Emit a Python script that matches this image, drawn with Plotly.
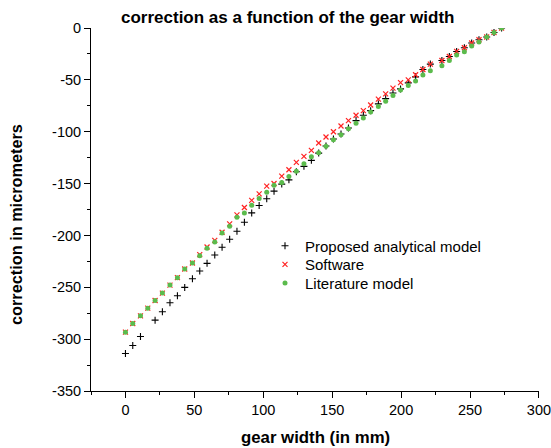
import plotly.graph_objects as go

# gear width (mm)
gear_width = [0, 5.3, 10.9, 16.2, 21.5, 26.8, 32.3, 37.7, 43.0, 48.6,
              53.9, 59.2, 64.8, 70.1, 75.6, 80.9, 86.3, 91.6, 97.0, 102.5,
              107.8, 113.4, 118.6, 124.0, 129.5, 134.9, 140.2, 145.5, 150.9, 156.4,
              161.8, 167.3, 172.6, 177.9, 183.5, 188.8, 194.1, 199.6, 205.2, 210.5,
              215.8, 221.2, 229.6, 235.0, 240.3, 245.9, 251.2, 256.5, 262.1, 267.4,
              272.9]

proposed = [-313.9, -306.2, -297.5, None, -281.7, -273.6, -264.9, -258.1, -250.1, -241.7,
            -234.3, -226.9, -218.9, -211.4, -203.7, -196.0, -187.3, -178.3, -171.1, -164.7,
            -157.3, -150.5, -146.4, -138.6, -133.4, -127.6, -120.6, -113.8, -107.0, -102.2,
            -96.4, -89.3, -84.1, -79.7, -73.2, -68.1, -62.6, -58.7, -52.9, -47.1,
            -40.0, -34.8, -31.3, -27.5, -22.6, -19.0, -14.5, -11.3, -8.7, -4.3,
            0.0]

software = [-293.3, -284.9, -277.5, -270.1, -262.7, -255.6, -247.9, -240.7, -232.4, -226.6,
            -218.5, -211.2, -204.7, -196.9, -188.9, -180.2, -173.1, -166.2, -160.0, -152.5,
            -149.9, -142.8, -136.7, -129.6, -123.8, -118.0, -110.9, -105.1, -100.0, -94.5,
            -89.3, -84.1, -79.7, -74.2, -68.6, -63.5, -58.0, -52.6, -50.0, -45.1,
            -40.0, -34.8, -31.3, -27.5, -22.6, -19.0, -14.5, -11.3, -8.7, -4.3,
            0.0]

literature = [-293.3, -284.9, -277.5, -270.1, -262.7, -255.6, -247.9, -240.7, -232.4, -226.6,
              -219.5, -212.4, -206.3, -197.6, -191.1, -182.4, -178.3, -171.0, -164.4, -158.3,
              -151.5, -148.9, -143.1, -138.0, -130.9, -124.1, -120.3, -114.1, -107.7, -102.9,
              -97.1, -91.8, -86.7, -80.9, -75.8, -70.6, -65.2, -59.9, -55.5, -51.2,
              -45.2, -41.3, -36.4, -31.3, -26.1, -22.9, -17.4, -13.5, -8.7, -4.3,
              0.0]

x_ticks = [0, 50, 100, 150, 200, 250, 300]
y_ticks = [0, -50, -100, -150, -200, -250, -300, -350]

FONT = "Liberation Sans, Arial, sans-serif"

fig = go.Figure()
fig.add_trace(go.Scatter(
    x=gear_width, y=proposed, mode="markers", name="Proposed analytical model",
    legend="legend",
    marker=dict(symbol="cross-thin", size=5, color="black",
                line=dict(color="black", width=1.1))))
fig.add_trace(go.Scatter(
    x=gear_width, y=software, mode="markers", name="Software",
    legend="legend2",
    marker=dict(symbol="x-thin", size=5, color="#ff2222",
                line=dict(color="#ff2222", width=1.2))))
fig.add_trace(go.Scatter(
    x=gear_width, y=literature, mode="markers", name="Literature model",
    legend="legend3",
    marker=dict(symbol="circle", size=5, color="#5bbb4c",
                line=dict(width=0))))

axis_common = dict(
    showline=True, linecolor="black", linewidth=1,
    ticks="outside", ticklen=6, tickwidth=1, tickcolor="black",
    showgrid=False, zeroline=False, mirror=False, automargin=False,
    ticklabeloverflow="allow",
    tickfont=dict(family=FONT, size=14.5, color="black"),
    minor=dict(ticks="outside", ticklen=3, tickwidth=1, tickcolor="black", showgrid=False),
)

fig.update_xaxes(range=[-25, 300.05], tickvals=x_ticks, ticktext=[str(v) for v in x_ticks],
                 minor_dtick=25, **axis_common)
fig.update_yaxes(range=[-350, 0], tickvals=y_ticks, ticktext=[str(v) for v in y_ticks],
                 minor_dtick=25, **axis_common)

def legend_at(py):
    return dict(x=(265 - 91) / 448, y=(391 - py) / 363, xanchor="left", yanchor="middle",
                bgcolor="rgba(0,0,0,0)", borderwidth=0,
                font=dict(family=FONT, size=15, color="black"),
                tracegroupgap=0, itemwidth=30)

fig.update_layout(
    width=551, height=448,
    margin=dict(l=91, r=12, t=28, b=57, autoexpand=False),
    paper_bgcolor="white", plot_bgcolor="white",
    font=dict(family=FONT, color="black"),
    showlegend=True,
    legend=legend_at(246),
    legend2=legend_at(264.7),
    legend3=legend_at(283.3),
    annotations=[
        dict(text="<b>correction as a function of the gear width</b>",
             xref="paper", yref="paper", x=(118.5 - 91) / 448, y=1 + 11 / 363,
             xanchor="left", yanchor="middle", showarrow=False,
             font=dict(family=FONT, size=17, color="black")),
        dict(text="<b>gear width (in mm)</b>",
             xref="paper", yref="paper", x=0.5, y=-46 / 363,
             xanchor="center", yanchor="middle", showarrow=False,
             font=dict(family=FONT, size=16.8, color="black")),
        dict(text="<b>correction in micrometers</b>", textangle=-90,
             xref="paper", yref="paper", x=-75 / 448, y=(391 - 225) / 363,
             xanchor="center", yanchor="middle", showarrow=False,
             font=dict(family=FONT, size=16.3, color="black")),
    ],
)

fig.write_html("out.html", config={"displayModeBar": False},
               post_script="document.body.style.margin='0';document.body.style.overflow='hidden';")
